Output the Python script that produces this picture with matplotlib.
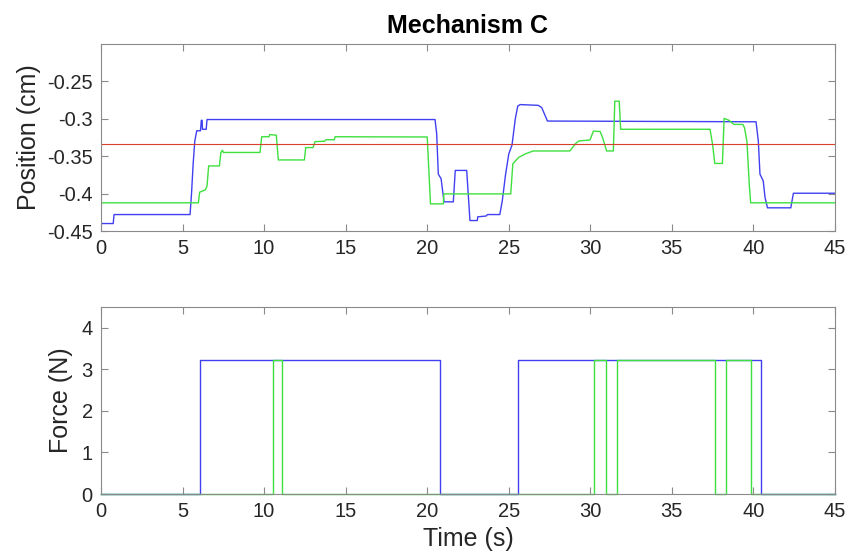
import numpy as np
import matplotlib.pyplot as plt

plt.rcParams['font.family'] = ['Liberation Sans', 'DejaVu Sans']

# ---- position traces (s, cm) ----
blue_t = [0, 0.75, 0.80, 5.46, 5.55, 5.65, 5.75, 5.87, 6.10, 6.15, 6.20, 6.22, 6.45, 6.50,
          20.48, 20.58, 20.68, 20.85, 21.03, 21.60, 21.72, 22.42, 22.62, 23.07, 23.10, 23.60,
          23.70, 24.45, 24.60, 24.80, 25.00, 25.20, 25.40, 25.55, 25.70, 26.80, 27.02, 27.37,
          40.16, 40.30, 40.40, 40.60, 40.71, 40.86, 42.29, 42.45, 45]
blue_pos = [-0.440, -0.440, -0.428, -0.428, -0.400, -0.360, -0.330, -0.316, -0.316, -0.302,
            -0.302, -0.314, -0.314, -0.301, -0.301, -0.320, -0.374, -0.380, -0.411, -0.411,
            -0.369, -0.369, -0.436, -0.436, -0.431, -0.430, -0.428, -0.428, -0.410, -0.375,
            -0.347, -0.335, -0.300, -0.283, -0.281, -0.282, -0.285, -0.303, -0.304, -0.330,
            -0.374, -0.383, -0.405, -0.419, -0.419, -0.3995, -0.3995]

green_t = [0, 5.97, 6.05, 6.40, 6.50, 6.60, 7.26, 7.35, 7.45, 7.50, 9.75, 9.85, 10.30, 10.35,
           10.75, 10.87, 12.47, 12.55, 13.00, 13.12, 13.70, 13.80, 14.30, 14.35, 20.00, 20.20,
           20.99, 21.02, 25.12, 25.25, 25.60, 26.00, 26.50, 28.75, 29.10, 29.30, 29.98, 30.19,
           30.60, 30.75, 31.00, 31.41, 31.50, 31.77, 31.86, 37.34, 37.50, 37.63, 38.10, 38.20,
           38.50, 38.80, 39.35, 39.45, 39.60, 39.75, 39.83, 45]
green_pos = [-0.4123, -0.4123, -0.398, -0.395, -0.390, -0.363, -0.363, -0.345, -0.342, -0.345,
             -0.345, -0.324, -0.324, -0.321, -0.322, -0.355, -0.355, -0.3385, -0.3385, -0.3305,
             -0.330, -0.328, -0.328, -0.324, -0.3243, -0.4137, -0.4137, -0.4004, -0.4004, -0.360,
             -0.3518, -0.347, -0.343, -0.343, -0.333, -0.3296, -0.3283, -0.3164, -0.317, -0.325,
             -0.343, -0.343, -0.2765, -0.2765, -0.314, -0.314, -0.335, -0.3597, -0.3597, -0.2995,
             -0.302, -0.3075, -0.3075, -0.312, -0.330, -0.390, -0.4123, -0.4123]

target_pos = -0.3333

# ---- force traces (s, N), step functions ----
blue_force_t = [0, 6.09, 20.80, 25.59, 40.45, 45]
blue_force = [0, 3.22, 0, 3.22, 0, 0]
green_force_t = [0, 10.52, 11.08, 30.23, 30.96, 31.64, 37.65, 38.32, 39.85, 45]
green_force = [0, 3.22, 0, 3.22, 0, 3.22, 0, 3.22, 0, 0]

BLUE = '#4040f2'
GREEN = '#3ee03e'
RED = '#d8402c'
SPINE = '#8a8a8a'
TXT = '#262626'

fig = plt.figure(figsize=(8.61, 5.56), dpi=100)
ax1 = fig.add_axes([0.1173, 0.5845, 0.8525, 0.3364])
ax2 = fig.add_axes([0.1173, 0.1115, 0.8525, 0.3363])

ax1.plot(blue_t, blue_pos, color=BLUE, lw=1.0)
ax1.plot(green_t, green_pos, color=GREEN, lw=1.0)
ax1.axhline(target_pos, color=RED, lw=0.8)
ax1.set_xlim(0, 45)
ax1.set_ylim(-0.45, -0.2)
ax1.set_yticks([-0.45, -0.4, -0.35, -0.3, -0.25])
ax1.set_yticklabels(['-0.45', '-0.4', '-0.35', '-0.3', '-0.25'])
ax1.set_xticks(range(0, 46, 5))
ax1.set_ylabel('Position (cm)', fontsize=18, color=TXT, labelpad=4)
ax1.set_title('Mechanism C', fontsize=18, fontweight='bold', pad=8)

ax2.plot(blue_force_t, blue_force, color=BLUE, lw=1.0, drawstyle='steps-post', clip_on=False)
ax2.plot(green_force_t, green_force, color=GREEN, lw=1.0, drawstyle='steps-post', clip_on=False)
ax2.set_xlim(0, 45)
ax2.set_ylim(0, 4.5)
ax2.set_yticks([0, 1, 2, 3, 4])
ax2.set_xticks(range(0, 46, 5))
ax2.set_ylabel('Force (N)', fontsize=18, color=TXT, labelpad=6)
ax2.set_xlabel('Time (s)', fontsize=18, color=TXT, labelpad=4)

for ax in (ax1, ax2):
    for s in ax.spines.values():
        s.set_color(SPINE)
        s.set_linewidth(0.8)
    ax.tick_params(direction='in', top=True, right=True, length=5, width=0.8,
                   color=SPINE, labelcolor=TXT, labelsize=14.5, pad=6)

plt.savefig('out.png', dpi=100)
